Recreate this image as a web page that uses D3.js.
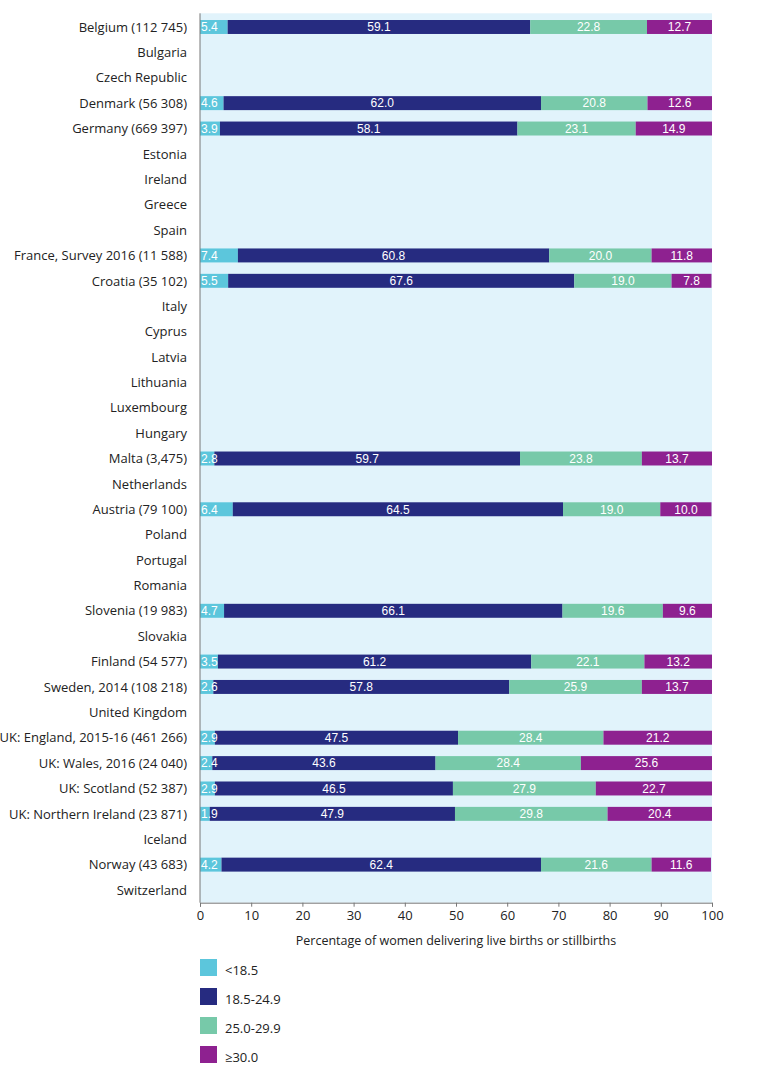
<!DOCTYPE html>
<html><head><meta charset="utf-8">
<script src="https://cdn.jsdelivr.net/npm/d3@7"></script>
<style>body{margin:0;background:#fff}svg{display:block}</style>
</head><body>
<svg id="c" width="779" height="1091"></svg>
<script>
const countries = ["Belgium (112 745)","Bulgaria","Czech Republic","Denmark (56 308)","Germany (669 397)","Estonia","Ireland","Greece","Spain","France, Survey 2016 (11 588)","Croatia (35 102)","Italy","Cyprus","Latvia","Lithuania","Luxembourg","Hungary","Malta (3,475)","Netherlands","Austria (79 100)","Poland","Portugal","Romania","Slovenia (19 983)","Slovakia","Finland (54 577)","Sweden, 2014 (108 218)","United Kingdom","UK: England, 2015-16 (461 266)","UK: Wales, 2016 (24 040)","UK: Scotland (52 387)","UK: Northern Ireland (23 871)","Iceland","Norway (43 683)","Switzerland"];
const under185 = [5.4,null,null,4.6,3.9,null,null,null,null,7.4,5.5,null,null,null,null,null,null,2.8,null,6.4,null,null,null,4.7,null,3.5,2.6,null,2.9,2.4,2.9,1.9,null,4.2,null];
const normal   = [59.1,null,null,62.0,58.1,null,null,null,null,60.8,67.6,null,null,null,null,null,null,59.7,null,64.5,null,null,null,66.1,null,61.2,57.8,null,47.5,43.6,46.5,47.9,null,62.4,null];
const overweight=[22.8,null,null,20.8,23.1,null,null,null,null,20.0,19.0,null,null,null,null,null,null,23.8,null,19.0,null,null,null,19.6,null,22.1,25.9,null,28.4,28.4,27.9,29.8,null,21.6,null];
const obese    = [12.7,null,null,12.6,14.9,null,null,null,null,11.8,7.8,null,null,null,null,null,null,13.7,null,10.0,null,null,null,9.6,null,13.2,13.7,null,21.2,25.6,22.7,20.4,null,11.6,null];
const seriesNames = ["<18.5","18.5-24.9","25.0-29.9","\u226530.0"];
const colors = ["#5cc6dc","#262b80","#77c9a9","#8e2190"];
const xTicks = [0,10,20,30,40,50,60,70,80,90,100];
const axisTitle = "Percentage of women delivering live births or stillbirths";

const series = [under185, normal, overweight, obese];
const svg = d3.select("#c");
const L = 200, R = 712, T = 14.3, B = 902.7;
const x = d3.scaleLinear().domain([0,100]).range([L,R]);
const y = d3.scaleBand().domain(countries).range([T,B]).paddingInner(0.45).paddingOuter(0.225);
const labelFont = "'Open Sans', 'Noto Sans', sans-serif";

svg.append("rect").attr("x",L).attr("y",T-1).attr("width",R-L).attr("height",B-T+1).attr("fill","#e1f3fb");

const labels = [];
countries.forEach((c,i)=>{
  if (series[0][i]==null) return;
  let cum = 0;
  series.forEach((s,k)=>{
    const v = s[i];
    const x0 = x(cum), x1 = x(cum+v);
    svg.append("rect").attr("x",x0).attr("y",y(c)).attr("width",x1-x0).attr("height",y.bandwidth()).attr("fill",colors[k]);
    labels.push({c, v, k, x0, x1});
    cum += v;
  });
});
labels.forEach(l=>{
  const t = svg.append("text").attr("y",y(l.c)+y.bandwidth()/2).attr("dy","0.36em")
    .attr("fill","#fff").attr("font-family","'Liberation Sans', Arial, sans-serif").attr("font-size",12)
    .text(l.v.toFixed(1));
  if (l.k===0) t.attr("x",l.x0+1).attr("text-anchor","start");
  else t.attr("x",(l.x0+l.x1)/2).attr("text-anchor","middle");
});

svg.append("g").selectAll("text").data(countries).join("text")
  .attr("x",L-13).attr("y",d=>y(d)+y.bandwidth()/2).attr("dy","0.36em")
  .attr("text-anchor","end").attr("font-family",labelFont).attr("font-size",13).attr("fill","#222")
  .text(d=>d);

svg.append("line").attr("x1",L).attr("x2",L).attr("y1",T-1).attr("y2",B).attr("stroke","#777").attr("stroke-width",1);
const xa = svg.append("g").attr("transform",`translate(0,${B})`)
  .call(d3.axisBottom(x).tickValues(xTicks).tickSize(4).tickPadding(4).tickFormat(d3.format("d")));
xa.select(".domain").attr("stroke","#777");
xa.selectAll(".tick line").attr("stroke","#777");
xa.selectAll("text").attr("font-family",labelFont).attr("font-size",13).attr("fill","#222");

svg.append("text").attr("x",(L+R)/2).attr("y",945).attr("text-anchor","middle")
  .attr("font-family",labelFont).attr("font-size",12.5).attr("fill","#222").text(axisTitle);

const lg = svg.append("g").selectAll("g").data(seriesNames).join("g")
  .attr("transform",(d,i)=>`translate(200,${959+i*29})`);
lg.append("rect").attr("width",17).attr("height",17).attr("fill",(d,i)=>colors[i]);
lg.append("text").attr("x",25).attr("y",16).attr("font-family",labelFont).attr("font-size",13).attr("fill","#222").text(d=>d);
</script>
</body></html>
